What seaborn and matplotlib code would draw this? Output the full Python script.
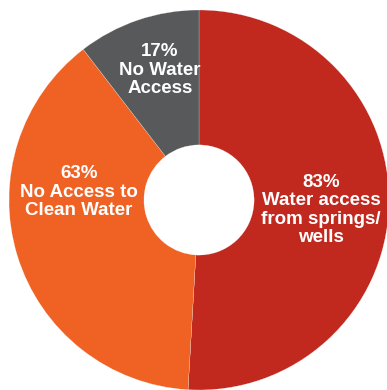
import matplotlib
matplotlib.use("Agg")
import matplotlib.pyplot as plt
import seaborn as sns

# data
labels = ["Water access\nfrom springs/\nwells", "No Access to\nClean Water", "No Water\nAccess"]
values = [83, 63, 17]
colors = ["#C1291F", "#F06223", "#58595B"]
label_pos = [(0.642, -0.053), (-0.632, 0.042), (-0.205, 0.684)]

sns.set_theme(style="white")
plt.rcParams["font.family"] = ["Liberation Sans", "DejaVu Sans"]

fig = plt.figure(figsize=(3.87, 3.90), dpi=100)
ax = fig.add_axes([9 / 387, 0, 380 / 387, 380 / 390])

wedges, _ = ax.pie(values, colors=colors, startangle=90, counterclock=False,
                   radius=1, wedgeprops=dict(width=0.71, edgecolor="white", linewidth=0.15))

for lab, val, (x, y) in zip(labels, values, label_pos):
    ax.text(x, y, f"{val}%\n{lab}", ha="center", va="center", color="white",
            fontsize=13.5, fontweight="bold", linespacing=1.1)

ax.set_xlim(-1, 1)
ax.set_ylim(-1, 1)
ax.axis("off")

fig.savefig("out.png", dpi=100, facecolor="white")
